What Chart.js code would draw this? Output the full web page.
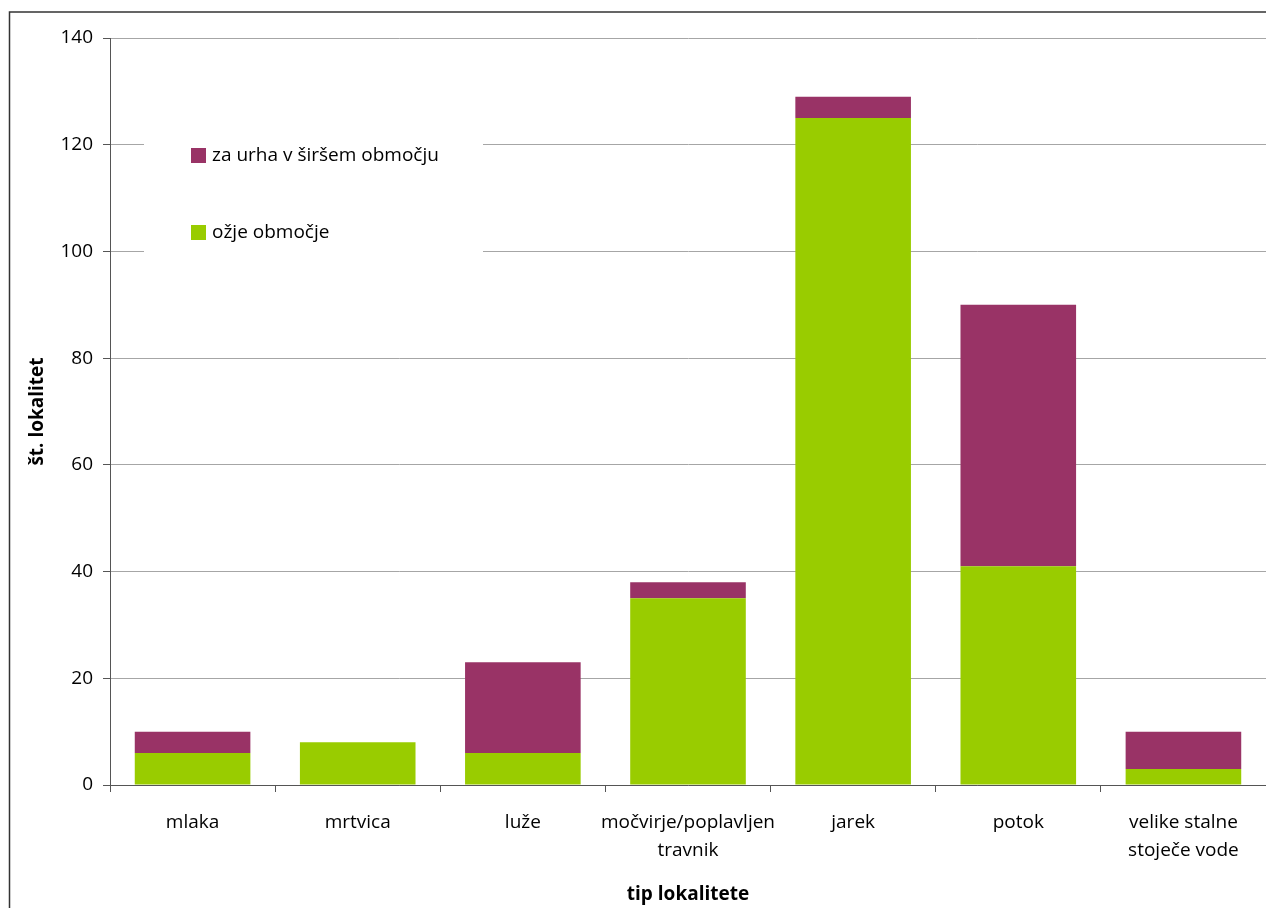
<!DOCTYPE html>
<html lang="sl">

<head>
    <meta charset="UTF-8">
    <title>Tip lokalitete</title>
    <script src="https://cdn.jsdelivr.net/npm/chart.js@4.4.1/dist/chart.umd.min.js"></script>
    <style>
        html, body {
            margin: 0;
            padding: 0;
            background: #fff;
        }

        #wrap {
            width: 1266px;
            height: 908px;
        }
    </style>
</head>

<body>
    <div id="wrap"><canvas id="chart"></canvas></div>

    <script>
        const categories = [
            'mlaka',
            'mrtvica',
            'luže',
            ['močvirje/poplavljen', 'travnik'],
            'jarek',
            'potok',
            ['velike stalne', 'stoječe vode']
        ];
        const ozjeObmocje = [6, 8, 6, 35, 125, 41, 3];
        const sirseObmocje = [4, 0, 17, 3, 4, 49, 7];
        const yTicks = [0, 20, 40, 60, 80, 100, 120, 140];

        const FONT = '"Open Sans", sans-serif';
        const GREEN = '#99cc00';
        const PURPLE = '#993366';

        // outer frame of the chart object
        const framePlugin = {
            id: 'frame',
            beforeDraw(chart) {
                const ctx = chart.ctx;
                ctx.save();
                ctx.strokeStyle = '#333';
                ctx.lineWidth = 1.5;
                ctx.strokeRect(9.5, 12, 1400, 1000);
                ctx.restore();
            }
        };

        // legend sits on a white box inside the plot, on top of the grid
        const boxLegend = {
            id: 'boxLegend',
            afterDatasetsDraw(chart) {
                const ctx = chart.ctx;
                ctx.save();
                ctx.fillStyle = '#fff';
                ctx.fillRect(144, 100, 339, 170);
                const items = [
                    { ds: chart.data.datasets[1], y: 148 },
                    { ds: chart.data.datasets[0], y: 225 }
                ];
                ctx.font = '19px ' + FONT;
                ctx.textBaseline = 'middle';
                items.forEach(it => {
                    ctx.fillStyle = it.ds.backgroundColor;
                    ctx.fillRect(191, it.y, 15, 15);
                    ctx.fillStyle = '#000';
                    ctx.fillText(it.ds.label, 212, it.y + 8);
                });
                ctx.restore();
            }
        };

        const ctx = document.getElementById('chart').getContext('2d');
        const myChart = new Chart(ctx, {
            type: 'bar',
            data: {
                labels: categories,
                datasets: [{
                    label: 'ožje območje',
                    data: ozjeObmocje,
                    backgroundColor: GREEN,
                    barPercentage: 0.7,
                    categoryPercentage: 1
                }, {
                    label: 'za urha v širšem območju',
                    data: sirseObmocje,
                    backgroundColor: PURPLE,
                    barPercentage: 0.7,
                    categoryPercentage: 1
                }]
            },
            options: {
                responsive: true,
                maintainAspectRatio: false,
                animation: false,
                layout: {
                    padding: { left: 12, top: 38, right: 0, bottom: 0 }
                },
                plugins: {
                    legend: { display: false },
                    tooltip: { enabled: false }
                },
                scales: {
                    x: {
                        stacked: true,
                        afterFit: s => { s.height = 123; },
                        grid: {
                            offset: true,
                            drawOnChartArea: false,
                            tickLength: 7,
                            color: '#555'
                        },
                        border: { color: '#555', width: 1 },
                        ticks: {
                            color: '#000',
                            font: { family: FONT, size: 19, lineHeight: 1.5 },
                            padding: 16,
                            maxRotation: 0,
                            autoSkip: false
                        },
                        title: {
                            display: true,
                            text: 'tip lokalitete',
                            color: '#000',
                            font: { family: FONT, size: 19, weight: 'bold' },
                            padding: { top: 4, bottom: 2 }
                        }
                    },
                    y: {
                        stacked: true,
                        min: 0,
                        max: 140,
                        afterFit: s => { s.width = 98; },
                        afterBuildTicks: s => { s.ticks = yTicks.map(v => ({ value: v })); },
                        grid: {
                            color: '#a6a6a6',
                            tickLength: 7,
                            tickColor: '#555'
                        },
                        border: { color: '#555', width: 1 },
                        ticks: {
                            color: '#000',
                            font: { family: FONT, size: 19 },
                            padding: 10
                        },
                        title: {
                            display: true,
                            text: 'št. lokalitet',
                            color: '#000',
                            font: { family: FONT, size: 19, weight: 'bold' },
                            padding: { top: 14, bottom: 0 }
                        }
                    }
                }
            },
            plugins: [framePlugin, boxLegend]
        });
    </script>

</body>

</html>
